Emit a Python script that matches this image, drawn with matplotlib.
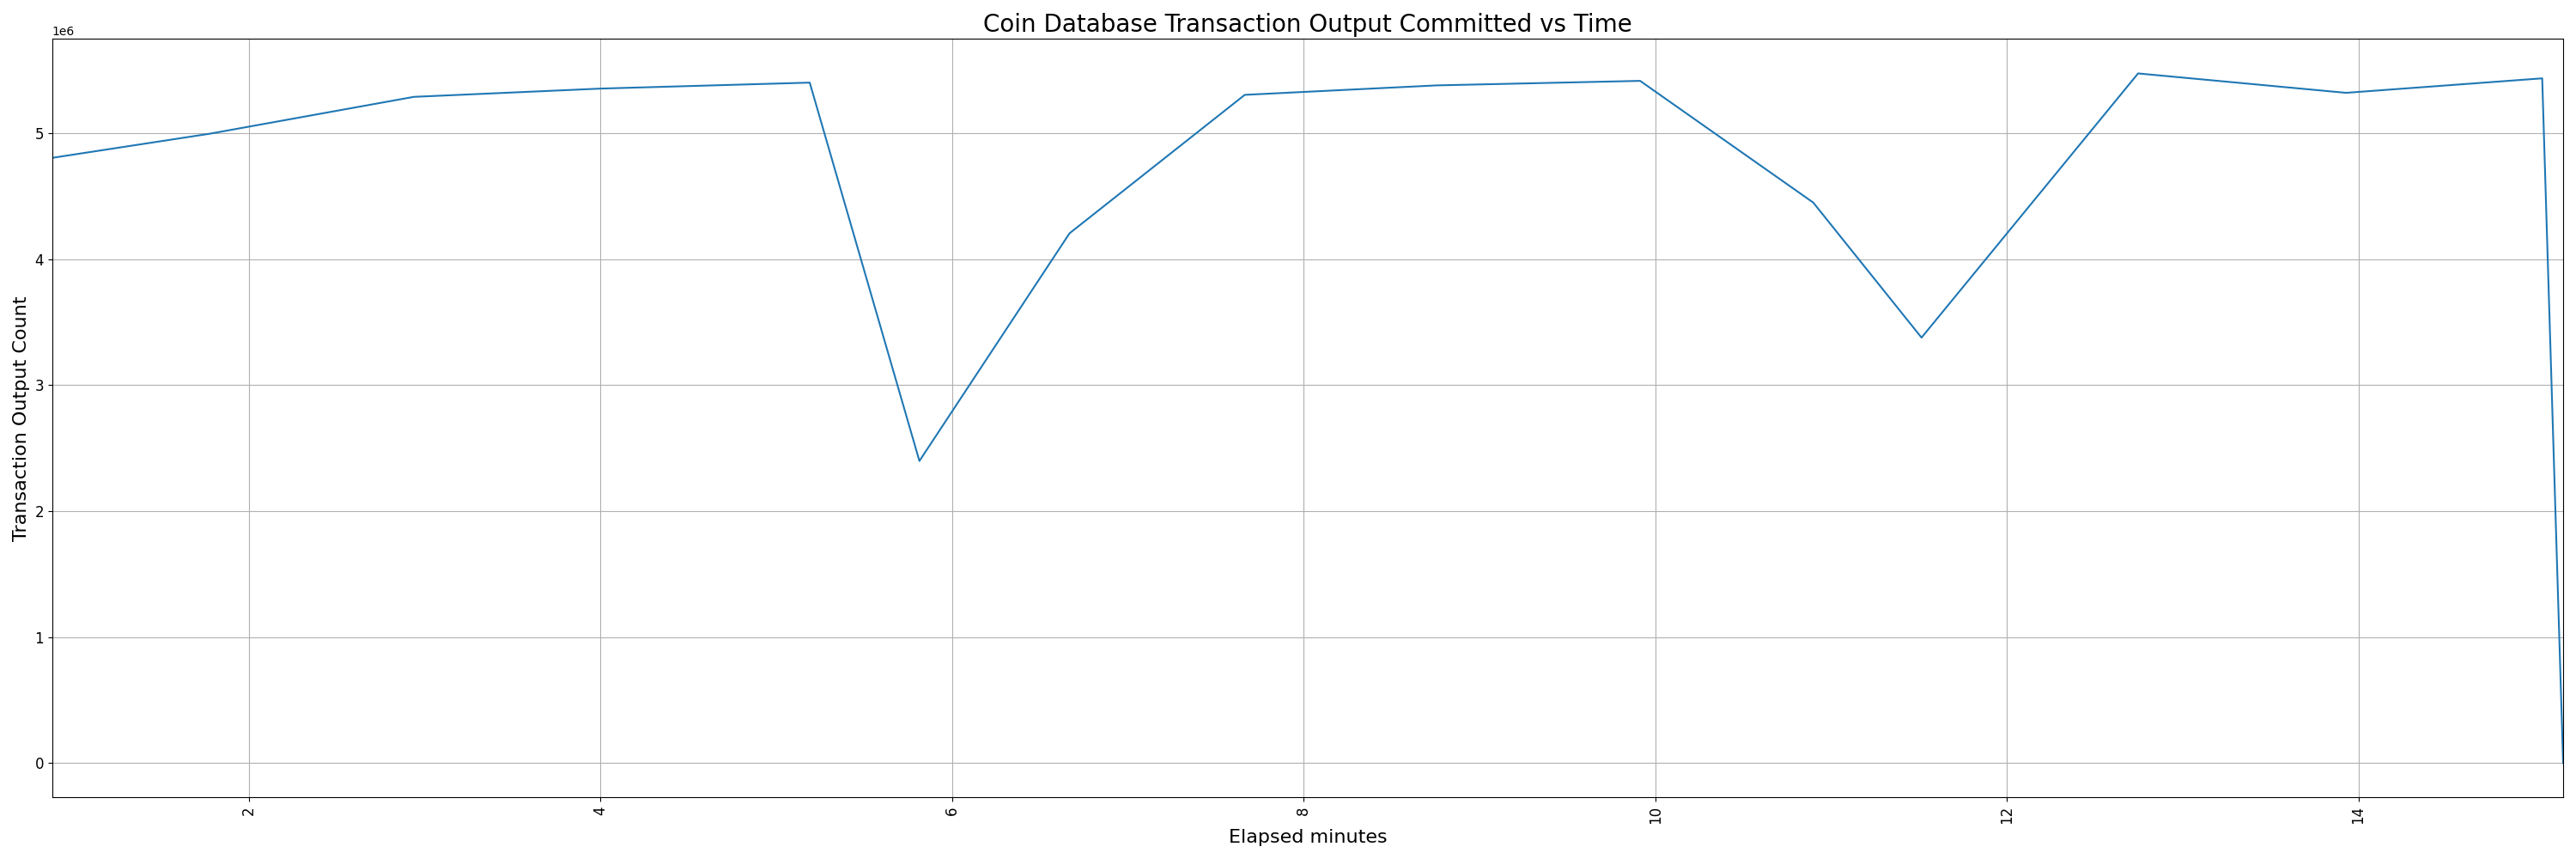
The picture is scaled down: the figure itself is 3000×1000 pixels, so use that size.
import matplotlib

matplotlib.use('Agg')
from matplotlib import pyplot as plt

# elapsed minutes and committed output counts
elapsed_minutes = [0.881, 1.775, 2.938, 4.008, 5.19, 5.814, 6.668, 7.665,
                   8.755, 9.914, 10.899, 11.515, 12.747, 13.93, 15.046, 15.165]
output_counts = [4.804e6, 4.995e6, 5.288e6, 5.354e6, 5.401e6, 2.398e6, 4.205e6, 5.304e6,
                 5.379e6, 5.415e6, 4.449e6, 3.377e6, 5.474e6, 5.32e6, 5.435e6, 0]

fig, ax = plt.subplots(figsize=(30, 10), dpi=100)
ax.plot(elapsed_minutes, output_counts)
ax.set_xlim(elapsed_minutes[0], elapsed_minutes[-1])
ax.set_title('Coin Database Transaction Output Committed vs Time', fontsize=20)
ax.set_xlabel('Elapsed minutes', fontsize=16)
ax.set_ylabel('Transaction Output Count', fontsize=16)
ax.tick_params(labelsize=12)
plt.xticks(rotation=90)
ax.grid(True)
fig.tight_layout()
fig.savefig('out.png')
